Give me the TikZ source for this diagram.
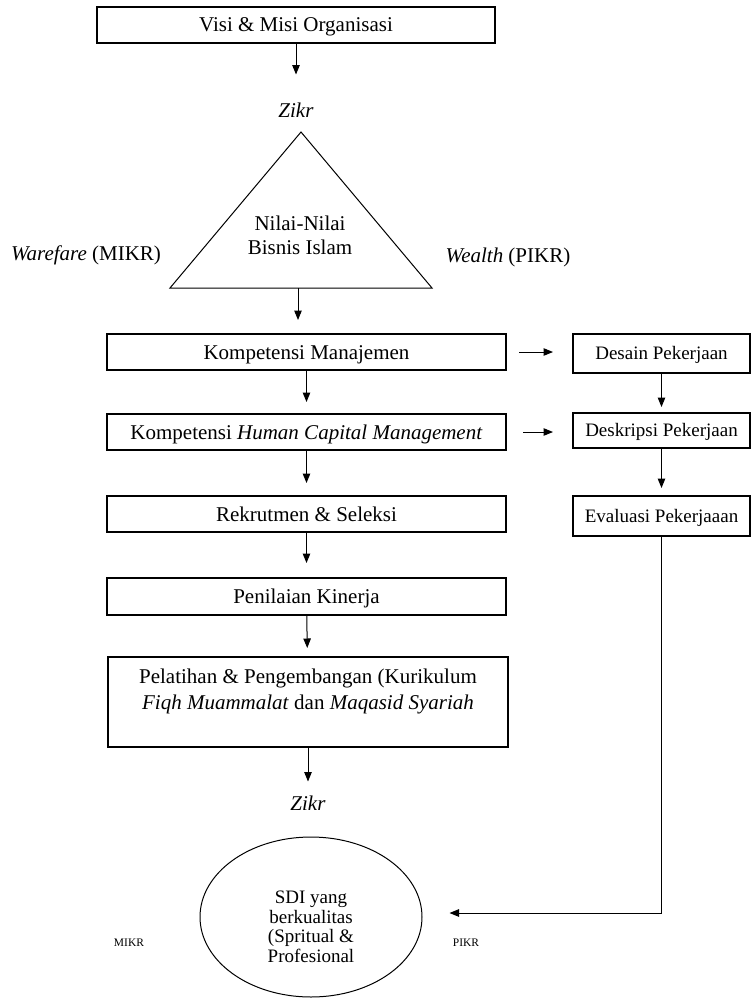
\documentclass[tikz,border=0pt]{standalone}
\usepackage{fontspec}
\setmainfont{Liberation Serif}
\usetikzlibrary{arrows.meta}
\usetikzlibrary{shapes.geometric}

\begin{document}
\begin{tikzpicture}[x=1pt, y=-1pt,
            frame/.style={draw, line width=1.1pt, outer sep=0pt, inner sep=2pt,
                minimum width=399pt, minimum height=36pt,
                font=\fontsize{21}{25}\selectfont},
            box/.style={frame, text height=16pt, text depth=2pt},
            sidebox/.style={frame, minimum width=177pt, text height=14pt, text depth=1.4pt,
                font=\fontsize{19}{22}\selectfont},
            lbl/.style={inner sep=0pt, font=\fontsize{21}{24}\selectfont},
            small/.style={inner sep=0pt, font=\fontsize{11.5}{13}\selectfont},
            arrow/.style={-{Triangle[length=9.5pt, width=7.5pt]}, line width=1pt},
        ]
            \useasboundingbox (0,0) rectangle (751,998);
            \node[box, minimum width=398pt] (visi) at (296,25) {Visi \& Misi Organisasi};
            \node[lbl] (zikra) at (296,110) {\textit{Zikr}};
            \coordinate (apex) at (301,132);
            \coordinate (triright) at (432,288);
            \coordinate (trileft) at (170,288);
            \coordinate (tribase) at (298,288);
            \draw[line width=1pt] (apex) -- (triright) -- (trileft) -- cycle;
            \node[lbl, align=center] (nilai) at (300,235) {Nilai-Nilai\\Bisnis Islam};
            \node[lbl] (warefare) at (86,255) {\textit{Warefare} (MIKR)};
            \node[lbl] (wealth) at (508,257) {\textit{Wealth} (PIKR)};
            \node[box] (kompman) at (306.5,352) {Kompetensi Manajemen};
            \node[box] (kompcap) at (306.5,432) {Kompetensi \textit{Human Capital Management}};
            \node[box] (rekrut) at (306.5,514) {Rekrutmen \& Seleksi};
            \node[box, minimum height=37pt] (kinerja) at (306.5,596.5) {Penilaian Kinerja};
            \node[frame, minimum width=400pt, minimum height=90pt, align=center,
                font=\fontsize{21}{26}\selectfont] (latih) at (308,702)
                {Pelatihan \& Pengembangan (Kurikulum\\\textit{Fiqh Muammalat} dan \textit{Maqasid Syariah}\\\mbox{}};
            \node[lbl] (zikrb) at (308,803) {\textit{Zikr}};
            \node[ellipse, draw, line width=1pt, inner sep=0pt, minimum width=222pt,
                minimum height=160pt, align=center, font=\fontsize{19}{19.5}\selectfont]
                (sdi) at (311,917)
                {\rule{0pt}{32pt}SDI yang\\berkualitas\\(Spritual \&\\Profesional};
            \node[small] (mikr) at (129,943) {MIKR};
            \node[small] (pikr) at (466,943) {PIKR};
            \node[sidebox, minimum height=39pt] (desain) at (661.5,353.5) {Desain Pekerjaan};
            \node[sidebox, minimum height=35pt] (deskripsi) at (661.5,430.5) {Deskripsi Pekerjaan};
            \node[sidebox, minimum height=40pt] (evaluasi) at (661.5,516) {Evaluasi Pekerjaaan};
            \draw[arrow, shorten >=28pt] (visi) -- (zikra);
            \draw[arrow, shorten >=14pt] (tribase) -- (tribase |- kompman.north);
            \draw[arrow, shorten >=12pt] (kompman) -- (kompcap);
            \draw[arrow, shorten >=13pt] (kompcap) -- (rekrut);
            \draw[arrow, shorten >=15pt] (rekrut) -- (kinerja);
            \draw[arrow, shorten >=9pt] (kinerja) -- (latih);
            \draw[arrow, shorten >=14pt] (latih) -- (zikrb);
            \draw[arrow, shorten <=13pt, shorten >=20pt] (kompman.east) -- (kompman.east -| desain.west);
            \draw[arrow, shorten <=17pt, shorten >=20pt] (kompcap.east) -- (kompcap.east -| deskripsi.west);
            \draw[arrow, shorten >=6pt] (desain) -- (deskripsi);
            \draw[arrow, shorten >=8pt] (deskripsi) -- (evaluasi);
            \draw[arrow, shorten >=27pt] (evaluasi.south) |- ([yshift=4pt]sdi.east);
        \end{tikzpicture}
\end{document}
